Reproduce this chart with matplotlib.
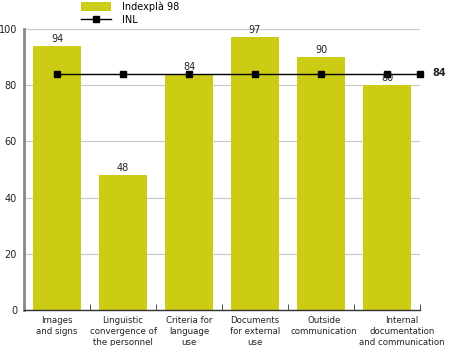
import matplotlib
matplotlib.use("Agg")
import matplotlib.pyplot as plt
from matplotlib.lines import Line2D
from matplotlib.patches import Patch
from matplotlib.transforms import ScaledTranslation
import numpy as np

categories = ["Images\nand signs", "Linguistic\nconvergence of\nthe personnel",
              "Criteria for\nlanguage\nuse", "Documents\nfor external\nuse",
              "Outside\ncommunication", "Internal\ndocumentation\nand communication"]
indexpla = [94, 48, 84, 97, 90, 80]
inl = [84, 84, 84, 84, 84, 84]
inl_value = 84
yticks = [0, 20, 40, 60, 80, 100]

bar_color = "#cccc14"
fs = 7

fig = plt.figure(figsize=(4.5, 3.46), dpi=100)
ax = fig.add_axes([24/450, 1-310/346, 396/450, 281/346])
x = np.arange(len(categories))
ax.bar(x, indexpla, width=0.73, color=bar_color, zorder=2)
for xi, v in zip(x, indexpla):
    ax.text(xi, v + 0.8, str(v), ha="center", va="bottom", fontsize=fs, color="#222222", zorder=5)

lx = list(x) + [len(categories) - 0.5]
ly = list(inl) + [inl_value]
ax.plot(lx, ly, color="black", lw=1, marker="s", markersize=5, zorder=4, clip_on=False)
ax.text(len(categories) - 0.5 + 0.19, inl_value + 0.5, str(inl_value), ha="left", va="center",
        fontsize=fs, fontweight="bold", color="#222222")

ax.set_xlim(-0.5, len(categories) - 0.5)
ax.set_ylim(0, 100)
ax.set_yticks(yticks)
ax.set_yticklabels([str(t) for t in yticks], fontsize=fs, color="#222222")
ax.tick_params(axis="y", length=0, pad=5)
ax.yaxis.grid(True, color="#c8c8c8", lw=0.8, zorder=0)
ax.set_axisbelow(True)

ax.set_xticks(x)
ax.set_xticklabels(categories, fontsize=6.2, color="#222222", linespacing=1.3)
ax.tick_params(axis="x", which="major", length=0, pad=4)
ax.set_xticks(np.arange(0.5, len(categories), 1.0), minor=True)
ax.tick_params(axis="x", which="minor", direction="in", length=4, color="#333333")
labels = ax.get_xticklabels()
last = labels[-1]
last.set_transform(last.get_transform() + ScaledTranslation(15/100, 0, fig.dpi_scale_trans))
lab4 = labels[-2]
lab4.set_transform(lab4.get_transform() + ScaledTranslation(3/100, 0, fig.dpi_scale_trans))

for s in ["top", "right"]:
    ax.spines[s].set_visible(False)
ax.spines["left"].set_color("#888888")
ax.spines["left"].set_linewidth(2)
ax.spines["bottom"].set_color("#333333")
ax.spines["bottom"].set_linewidth(1)

handles = [Patch(facecolor=bar_color, edgecolor="none"),
           Line2D([0], [0], color="black", lw=1, marker="s", markersize=5)]
fig.legend(handles, ["Indexplà 98", "INL"], loc="upper left", bbox_to_anchor=(81/450, 1-1/346),
           frameon=False, fontsize=fs, handlelength=3.1, handleheight=1.1,
           labelspacing=0.4, handletextpad=1.1, borderpad=0, borderaxespad=0)

fig.savefig("out.png", dpi=100)
